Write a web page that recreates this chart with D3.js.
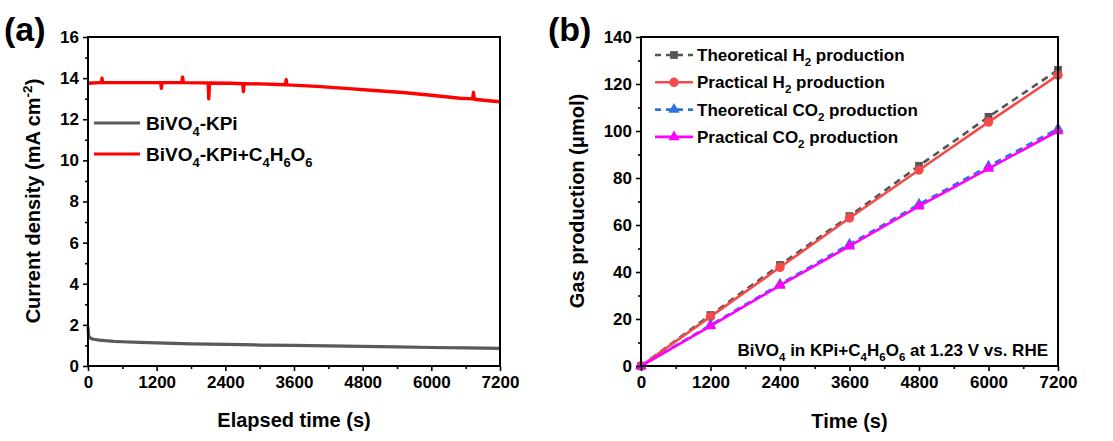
<!DOCTYPE html>
<html><head><meta charset="utf-8">
<script src="https://cdn.jsdelivr.net/npm/d3@7/dist/d3.min.js"></script>
<style>body{margin:0;background:#fff}svg{display:block;font-family:"Liberation Sans",Arial,sans-serif;font-weight:bold}</style>
</head><body><svg id="c" width="1113" height="441"></svg>
<script>
// ---------- Data (a) ----------
const timeKPi = [0, 10, 30, 60, 100, 200, 300, 450, 600, 900, 1200, 1800, 2400, 3000, 3600, 4200, 4800, 5400, 6000, 6600, 7200];
const curKPi  = [1.9, 1.5, 1.38, 1.33, 1.3, 1.26, 1.23, 1.2, 1.18, 1.15, 1.12, 1.08, 1.05, 1.02, 1.0, 0.98, 0.95, 0.93, 0.9, 0.88, 0.86];
const timeTart = [0, 200, 235, 245, 255, 300, 700, 1000, 1270, 1282, 1294, 1640, 1653, 1666, 2000, 2100, 2111, 2122, 2500, 2705, 2716, 2727, 3000, 3450, 3464, 3478, 4000, 4500, 5000, 5500, 6000, 6500, 6722, 6736, 6750, 7000, 7200];
const curTart  = [13.75, 13.78, 13.78, 14.0, 13.78, 13.78, 13.78, 13.78, 13.78, 13.5, 13.78, 13.78, 14.05, 13.78, 13.77, 13.76, 13.0, 13.76, 13.75, 13.73, 13.35, 13.73, 13.72, 13.68, 13.92, 13.67, 13.6, 13.5, 13.4, 13.3, 13.17, 13.02, 12.99, 13.3, 12.97, 12.9, 12.85];
const legendA = ["BiVO4-KPi", "BiVO4-KPi+C4H6O6"];
const xTicksA = [0, 1200, 2400, 3600, 4800, 6000, 7200];
const yTicksA = [0, 2, 4, 6, 8, 10, 12, 14, 16];

// ---------- Data (b) ----------
const timeB = [0, 1200, 2400, 3600, 4800, 6000, 7200];
const theoH2 = [0, 21.7, 43, 63.8, 85.2, 106, 126];
const pracH2 = [0, 21, 42, 63, 83.4, 103.8, 123.8];
const theoCO2 = [0, 17.4, 34.8, 51.8, 68.8, 85, 101];
const pracCO2 = [0, 17, 34.3, 51, 68, 84, 100];
const xTicksB = [0, 1200, 2400, 3600, 4800, 6000, 7200];
const yTicksB = [0, 20, 40, 60, 80, 100, 120, 140];

const svg = d3.select("#c");
svg.append("rect").attr("width",1113).attr("height",441).attr("fill","#fff");

function axes(g, x, y, xt, yt, xMinorStep, yMinorStep, xmax, ymax) {
  const xMinor = d3.range(0, xmax + 1e-6, xMinorStep).filter(v => !xt.includes(v));
  const yMinor = d3.range(0, ymax + 1e-6, yMinorStep).filter(v => !yt.includes(v));
  const gx = g.append("g").attr("transform", `translate(0,${y.range()[0]})`)
    .call(d3.axisBottom(x).tickValues(xt).tickSize(5).tickPadding(5).tickFormat(d3.format("d")));
  g.append("g").attr("transform", `translate(0,${y.range()[0]})`)
    .call(d3.axisBottom(x).tickValues(xMinor).tickSize(3).tickFormat(""));
  const gy = g.append("g").attr("transform", `translate(${x.range()[0]},0)`)
    .call(d3.axisLeft(y).tickValues(yt).tickSize(5).tickPadding(4).tickFormat(d3.format("d")));
  g.append("g").attr("transform", `translate(${x.range()[0]},0)`)
    .call(d3.axisLeft(y).tickValues(yMinor).tickSize(3).tickFormat(""));
  g.selectAll(".domain").remove();
  g.selectAll(".tick line").attr("stroke","#000").attr("stroke-width",1.6);
  g.selectAll(".tick text").attr("font-size",17).attr("font-weight","bold").attr("fill","#000")
    .attr("font-family",'"Liberation Sans",Arial,sans-serif');
  const [x0,x1] = x.range(), [y0,y1] = y.range();
  g.append("rect").attr("x",x0).attr("y",y1).attr("width",x1-x0).attr("height",y0-y1)
    .attr("fill","none").attr("stroke","#000").attr("stroke-width",2);
}

// sub/sup text helper: parts [[text, mode]] mode: 0 normal, 1 sub, 2 sup
function richText(sel, parts, fs) {
  let cur = 0;
  parts.forEach(([t, m]) => {
    const target = m === 1 ? fs*0.3 : m === 2 ? -fs*0.38 : 0;
    sel.append("tspan").attr("dy", target - cur).attr("font-size", m ? fs*0.68 : fs).text(t);
    cur = target;
  });
}
function parseChem(s) {
  // digits following a letter become subscripts
  const out = []; let i = 0;
  while (i < s.length) {
    const ch = s[i];
    if (/[0-9]/.test(ch) && i > 0 && /[A-Za-z]/.test(s[i-1])) { out.push([ch,1]); i++; }
    else { let j = i; while (j < s.length && !( /[0-9]/.test(s[j]) && j>0 && /[A-Za-z]/.test(s[j-1]) )) j++; out.push([s.slice(i,j),0]); i = j; }
  }
  return out;
}

// ---------- Panel (a) ----------
const xa = d3.scaleLinear().domain([0,7200]).range([88,500]);
const ya = d3.scaleLinear().domain([0,16]).range([366,37]);
const ga = svg.append("g");
const lineA = d3.line().x(d=>xa(d[0])).y(d=>ya(d[1]));
ga.append("path").datum(timeKPi.map((t,i)=>[t,curKPi[i]])).attr("d",lineA)
  .attr("fill","none").attr("stroke","#5a5a5a").attr("stroke-width",3.2);
ga.append("path").datum(timeTart.map((t,i)=>[t,curTart[i]])).attr("d",lineA)
  .attr("fill","none").attr("stroke","#ff0000").attr("stroke-width",3.4).attr("stroke-linejoin","round");
axes(ga, xa, ya, xTicksA, yTicksA, 600, 1, 7200, 16);
// legend a
const legColA = ["#5a5a5a", "#ff0000"];
legendA.forEach((lab,i)=>{
  const yy = 123 + i*31;
  ga.append("line").attr("x1",94).attr("x2",140).attr("y1",yy).attr("y2",yy).attr("stroke",legColA[i]).attr("stroke-width",3.2);
  const t = ga.append("text").attr("x",146).attr("y",yy+7).attr("font-size",19);
  richText(t, parseChem(lab), 19);
});
// titles a
ga.append("text").attr("x",294).attr("y",427).attr("text-anchor","middle").attr("font-size",20).text("Elapsed time (s)");
const yta = ga.append("text").attr("transform","translate(40,201) rotate(-90)").attr("text-anchor","middle").attr("font-size",20);
richText(yta, [["Current density (mA cm",0],["-2",2],[")",0]], 20);
svg.append("text").attr("x",4).attr("y",41).attr("font-size",34).text("(a)");

// ---------- Panel (b) ----------
const xb = d3.scaleLinear().domain([0,7200]).range([641,1058]);
const yb = d3.scaleLinear().domain([0,140]).range([366,37]);
const gb = svg.append("g");
const seriesB = [
  {name:"Theoretical H2 production", vals:theoH2, color:"#555555", dash:"7,5", sym:d3.symbolSquare, size:60},
  {name:"Practical H2 production", vals:pracH2, color:"#f44a4a", dash:null, sym:d3.symbolCircle, size:70},
  {name:"Theoretical CO2 production", vals:theoCO2, color:"#2b73e0", dash:"7,5", sym:d3.symbolTriangle, size:55},
  {name:"Practical CO2 production", vals:pracCO2, color:"#ff00ff", dash:null, sym:d3.symbolTriangle, size:55}
];
const lineB = d3.line().x(d=>xb(d[0])).y(d=>yb(d[1]));
seriesB.forEach(s=>{
  const pts = timeB.map((t,i)=>[t,s.vals[i]]);
  gb.append("path").datum(pts).attr("d",lineB).attr("fill","none").attr("stroke",s.color)
    .attr("stroke-width",2.6).attr("stroke-dasharray",s.dash);
  gb.selectAll(null).data(pts).enter().append("path")
    .attr("transform",d=>`translate(${xb(d[0])},${yb(d[1])})`)
    .attr("d",d3.symbol().type(s.sym).size(s.size)).attr("fill",s.color);
});
axes(gb, xb, yb, xTicksB, yTicksB, 600, 10, 7200, 140);
seriesB.forEach((s,i)=>{
  const yy = 55 + i*27.3;
  gb.append("line").attr("x1",655).attr("x2",693).attr("y1",yy).attr("y2",yy).attr("stroke",s.color)
    .attr("stroke-width",2.6).attr("stroke-dasharray",s.dash ? "6,5" : null);
  gb.append("path").attr("transform",`translate(674,${yy})`).attr("d",d3.symbol().type(s.sym).size(s.size)).attr("fill",s.color);
  const t = gb.append("text").attr("x",697).attr("y",yy+6).attr("font-size",17);
  richText(t, parseChem(s.name), 17);
});
const ann = gb.append("text").attr("x",1048).attr("y",356).attr("text-anchor","end").attr("font-size",17);
richText(ann, parseChem("BiVO4 in KPi+C4H6O6 at 1.23 V vs. RHE"), 17);
gb.append("text").attr("x",849.5).attr("y",428).attr("text-anchor","middle").attr("font-size",20).text("Time (s)");
gb.append("text").attr("transform","translate(584,201) rotate(-90)").attr("text-anchor","middle").attr("font-size",20).text("Gas production (μmol)");
svg.append("text").attr("x",548).attr("y",41).attr("font-size",34).text("(b)");
</script></body></html>
